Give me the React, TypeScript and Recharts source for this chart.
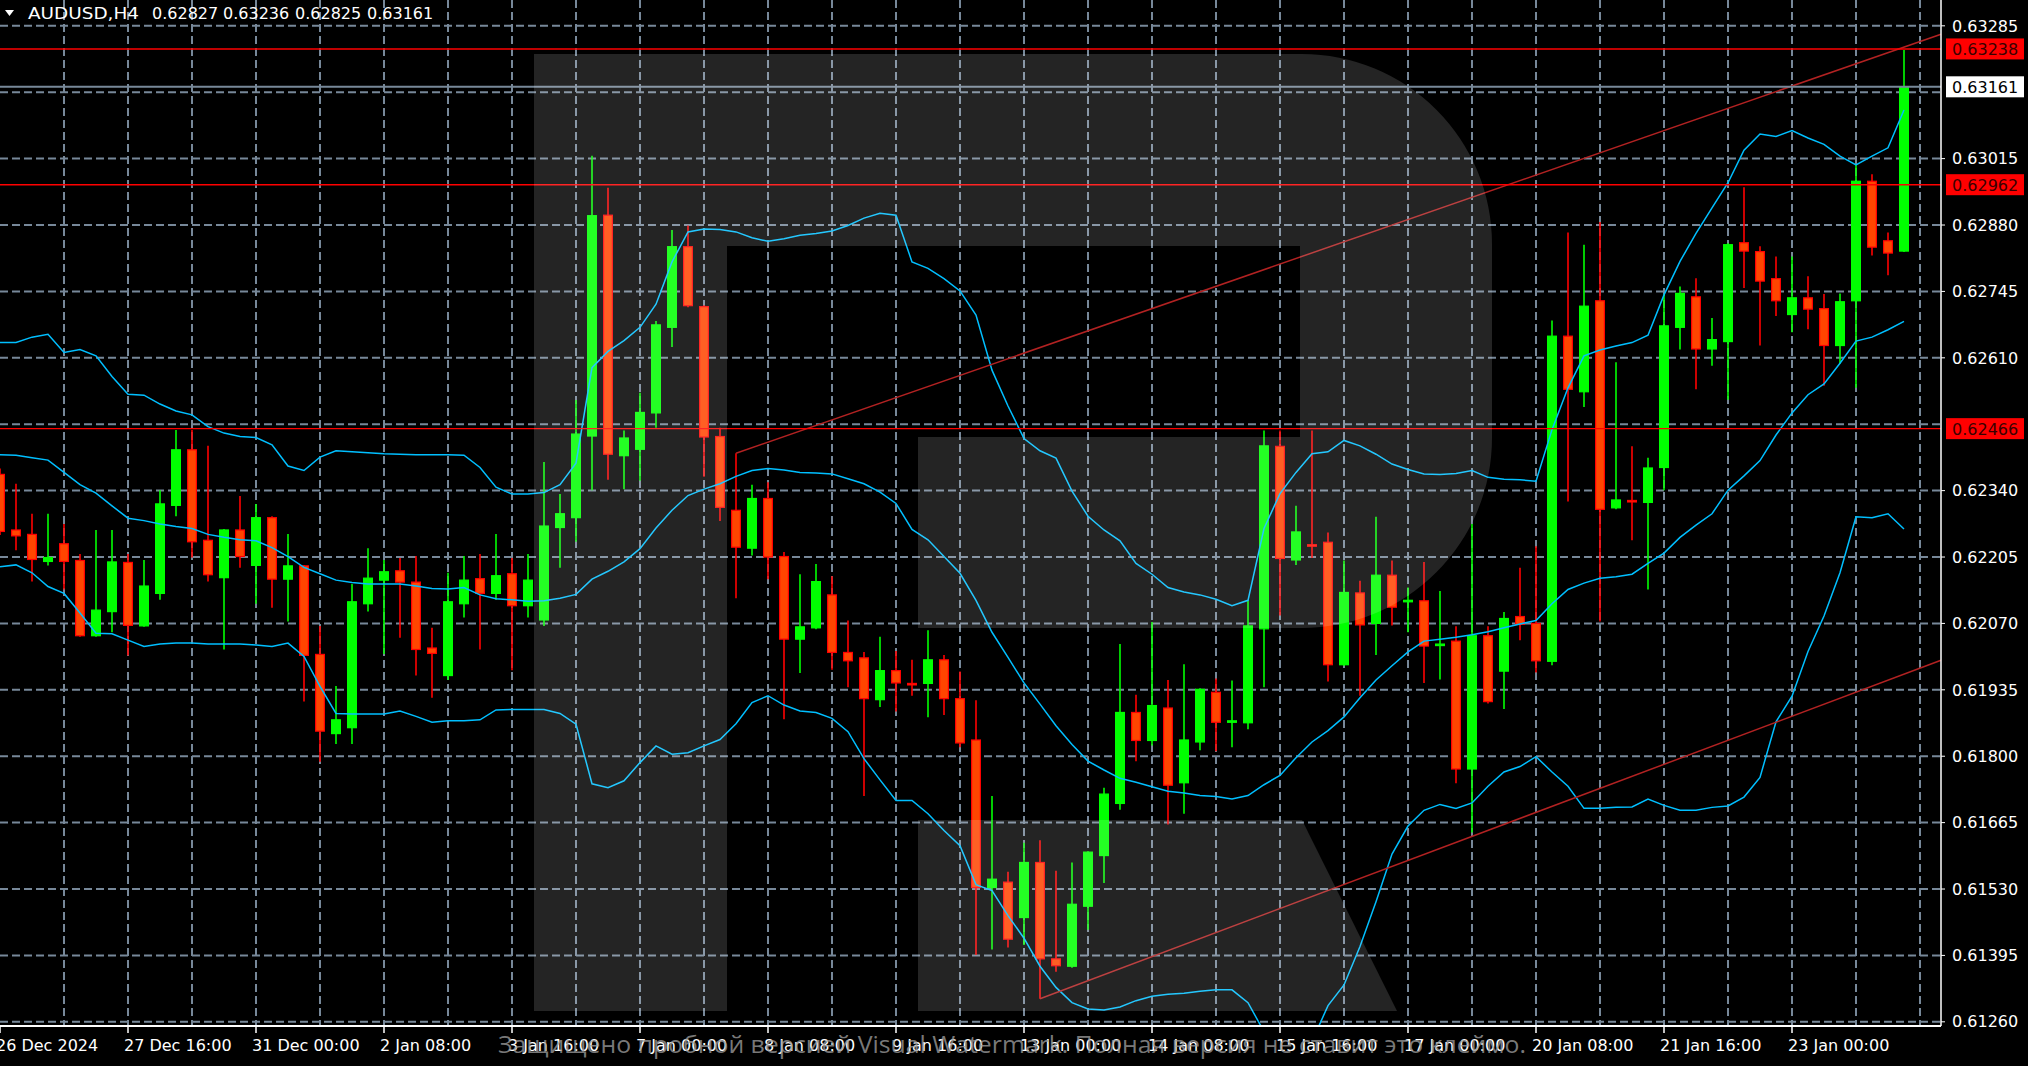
import React from 'react';
import { ComposedChart, Bar, Line, XAxis, YAxis, CartesianGrid, ReferenceLine } from 'recharts';

// ---- Data (AUDUSD, H4) ----
const opens = [
  0.62373, 0.62260, 0.62251, 0.62196, 0.62232, 0.62198, 0.62045, 0.62094, 0.62194, 0.62065,
  0.62131, 0.62310, 0.62423, 0.62239, 0.62163, 0.62260, 0.62188, 0.62285, 0.62160, 0.62187,
  0.62007, 0.61846, 0.61858, 0.62110, 0.62158, 0.62177, 0.62154, 0.62020, 0.61964, 0.62110,
  0.62161, 0.62131, 0.62171, 0.62106, 0.62077, 0.62265, 0.62285, 0.62451, 0.62900, 0.62411,
  0.62424, 0.62498, 0.62672, 0.62836, 0.62714, 0.62450, 0.62300, 0.62223, 0.62324, 0.62206,
  0.62038, 0.62061, 0.62128, 0.62011, 0.62000, 0.61915, 0.61974, 0.61948, 0.61948, 0.61996,
  0.61917, 0.61833, 0.61533, 0.61544, 0.61472, 0.61584, 0.61388, 0.61373, 0.61495, 0.61598,
  0.61704, 0.61889, 0.61832, 0.61898, 0.61746, 0.61829, 0.61930, 0.61869, 0.61868, 0.62059,
  0.62430, 0.62199, 0.62230, 0.62235, 0.61986, 0.62132, 0.62070, 0.62168, 0.62115, 0.62116,
  0.62025, 0.62034, 0.61774, 0.62045, 0.61973, 0.62084, 0.62070, 0.61993, 0.62654, 0.62541,
  0.62726, 0.62305, 0.62320, 0.62316, 0.62387, 0.62672, 0.62734, 0.62628, 0.62643, 0.62844,
  0.62826, 0.62771, 0.62698, 0.62732, 0.62710, 0.62635, 0.62726, 0.62969, 0.62848, 0.62827,
];
const highs = [
  0.62385, 0.62354, 0.62293, 0.62293, 0.62272, 0.62211, 0.62260, 0.62260, 0.62211, 0.62199,
  0.62341, 0.62463, 0.62463, 0.62431, 0.62262, 0.62329, 0.62313, 0.62288, 0.62252, 0.62189,
  0.62065, 0.61943, 0.62150, 0.62223, 0.62199, 0.62203, 0.62207, 0.62061, 0.62173, 0.62207,
  0.62211, 0.62252, 0.62203, 0.62211, 0.62398, 0.62333, 0.62524, 0.63021, 0.62956, 0.62462,
  0.62539, 0.62685, 0.62870, 0.62879, 0.62717, 0.62468, 0.62416, 0.62352, 0.62357, 0.62215,
  0.62170, 0.62191, 0.62166, 0.62076, 0.62012, 0.62043, 0.62014, 0.61996, 0.62056, 0.62006,
  0.61972, 0.61914, 0.61719, 0.61565, 0.61624, 0.61629, 0.61567, 0.61584, 0.61607, 0.61736,
  0.62028, 0.61925, 0.62073, 0.61955, 0.61987, 0.61938, 0.61958, 0.61954, 0.62117, 0.62462,
  0.62462, 0.62309, 0.62462, 0.62255, 0.62198, 0.62157, 0.62287, 0.62198, 0.62143, 0.62195,
  0.62136, 0.62064, 0.62272, 0.62064, 0.62093, 0.62183, 0.62227, 0.62686, 0.62865, 0.62840,
  0.62886, 0.62601, 0.62430, 0.62407, 0.62740, 0.62755, 0.62772, 0.62691, 0.62843, 0.62957,
  0.62837, 0.62816, 0.62816, 0.62776, 0.62740, 0.62741, 0.63002, 0.62983, 0.62865, 0.63236,
];
const lows = [
  0.62250, 0.62219, 0.62155, 0.62188, 0.62139, 0.62043, 0.62043, 0.62052, 0.62005, 0.62063,
  0.62118, 0.62288, 0.62204, 0.62155, 0.62017, 0.62183, 0.62110, 0.62102, 0.62074, 0.61911,
  0.61789, 0.61825, 0.61825, 0.62094, 0.62008, 0.62041, 0.61964, 0.61919, 0.61955, 0.62082,
  0.62017, 0.62118, 0.61975, 0.62082, 0.62065, 0.62183, 0.62236, 0.62341, 0.62362, 0.62343,
  0.62360, 0.62468, 0.62632, 0.62713, 0.62368, 0.62278, 0.62121, 0.62208, 0.62160, 0.61875,
  0.61969, 0.62058, 0.61976, 0.61940, 0.61719, 0.61900, 0.61891, 0.61923, 0.61879, 0.61884,
  0.61818, 0.61396, 0.61407, 0.61411, 0.61416, 0.61307, 0.61362, 0.61370, 0.61447, 0.61542,
  0.61691, 0.61790, 0.61822, 0.61661, 0.61683, 0.61812, 0.61810, 0.61818, 0.61855, 0.61940,
  0.62086, 0.62189, 0.62203, 0.61952, 0.61984, 0.61923, 0.62006, 0.62066, 0.62052, 0.61949,
  0.61956, 0.61745, 0.61645, 0.61907, 0.61896, 0.62036, 0.61970, 0.61985, 0.62318, 0.62510,
  0.62074, 0.62302, 0.62239, 0.62139, 0.62341, 0.62627, 0.62546, 0.62594, 0.62525, 0.62752,
  0.62635, 0.62695, 0.62662, 0.62668, 0.62553, 0.62598, 0.62549, 0.62818, 0.62778, 0.62825,
];
const closes = [
  0.62257, 0.62248, 0.62200, 0.62204, 0.62196, 0.62045, 0.62097, 0.62195, 0.62066, 0.62146,
  0.62313, 0.62423, 0.62236, 0.62169, 0.62260, 0.62206, 0.62285, 0.62160, 0.62187, 0.62005,
  0.61851, 0.61874, 0.62114, 0.62162, 0.62175, 0.62154, 0.62017, 0.62009, 0.62114, 0.62158,
  0.62131, 0.62167, 0.62106, 0.62158, 0.62268, 0.62293, 0.62455, 0.62899, 0.62414, 0.62447,
  0.62499, 0.62677, 0.62836, 0.62716, 0.62449, 0.62306, 0.62225, 0.62324, 0.62205, 0.62038,
  0.62063, 0.62155, 0.62011, 0.61994, 0.61917, 0.61974, 0.61949, 0.61946, 0.61996, 0.61917,
  0.61827, 0.61533, 0.61550, 0.61428, 0.61584, 0.61388, 0.61374, 0.61499, 0.61605, 0.61723,
  0.61889, 0.61832, 0.61903, 0.61741, 0.61833, 0.61936, 0.61869, 0.61872, 0.62065, 0.62431,
  0.62202, 0.62256, 0.62228, 0.61986, 0.62133, 0.62067, 0.62168, 0.62103, 0.62117, 0.62024,
  0.62028, 0.61774, 0.62045, 0.61911, 0.62080, 0.62068, 0.61994, 0.62654, 0.62546, 0.62715,
  0.62302, 0.62321, 0.62318, 0.62386, 0.62675, 0.62741, 0.62628, 0.62647, 0.62840, 0.62827,
  0.62766, 0.62726, 0.62732, 0.62709, 0.62635, 0.62724, 0.62969, 0.62835, 0.62823, 0.63161,
];
// Bollinger Bands
const bbUpper = [
  0.62641, 0.62641, 0.62652, 0.62658, 0.62621, 0.62627, 0.62614, 0.62572, 0.62536, 0.62534,
  0.62516, 0.62502, 0.62494, 0.62470, 0.62457, 0.62450, 0.62448, 0.62433, 0.62390, 0.62381,
  0.62408, 0.62421, 0.62419, 0.62417, 0.62415, 0.62414, 0.62413, 0.62413, 0.62413, 0.62412,
  0.62387, 0.62347, 0.62333, 0.62333, 0.62336, 0.62352, 0.62396, 0.62590, 0.62623, 0.62645,
  0.62672, 0.62719, 0.62805, 0.62866, 0.62872, 0.62871, 0.62866, 0.62854, 0.62847, 0.62852,
  0.62859, 0.62863, 0.62868, 0.62879, 0.62894, 0.62904, 0.62900, 0.62805, 0.62792, 0.62771,
  0.62746, 0.62697, 0.62585, 0.62512, 0.62446, 0.62421, 0.62406, 0.62339, 0.62288, 0.62260,
  0.62238, 0.62192, 0.62170, 0.62143, 0.62134, 0.62128, 0.62119, 0.62106, 0.62117, 0.62263,
  0.62334, 0.62377, 0.62415, 0.62419, 0.62442, 0.62431, 0.62414, 0.62394, 0.62383, 0.62374,
  0.62373, 0.62375, 0.62381, 0.62367, 0.62363, 0.62362, 0.62359, 0.62464, 0.62549, 0.62614,
  0.62626, 0.62634, 0.62641, 0.62656, 0.62738, 0.62806, 0.62863, 0.62915, 0.62966, 0.63032,
  0.63065, 0.63060, 0.63072, 0.63057, 0.63044, 0.63020, 0.63002, 0.63020, 0.63037, 0.63114,
];
const bbMiddle = [
  0.62413, 0.62412, 0.62407, 0.62402, 0.62377, 0.62352, 0.62335, 0.62309, 0.62284, 0.62279,
  0.62272, 0.62267, 0.62263, 0.62251, 0.62245, 0.62240, 0.62238, 0.62224, 0.62206, 0.62184,
  0.62171, 0.62158, 0.62153, 0.62150, 0.62150, 0.62150, 0.62146, 0.62141, 0.62140, 0.62143,
  0.62128, 0.62120, 0.62118, 0.62115, 0.62116, 0.62121, 0.62129, 0.62160, 0.62176, 0.62195,
  0.62222, 0.62264, 0.62300, 0.62330, 0.62343, 0.62354, 0.62369, 0.62381, 0.62385, 0.62382,
  0.62377, 0.62376, 0.62374, 0.62364, 0.62354, 0.62337, 0.62314, 0.62261, 0.62240, 0.62206,
  0.62172, 0.62117, 0.62052, 0.62001, 0.61949, 0.61906, 0.61862, 0.61824, 0.61790, 0.61772,
  0.61755, 0.61747, 0.61738, 0.61729, 0.61725, 0.61720, 0.61718, 0.61713, 0.61720, 0.61742,
  0.61761, 0.61797, 0.61829, 0.61852, 0.61880, 0.61919, 0.61955, 0.61984, 0.62012, 0.62034,
  0.62038, 0.62042, 0.62047, 0.62053, 0.62061, 0.62069, 0.62076, 0.62110, 0.62139, 0.62152,
  0.62162, 0.62165, 0.62170, 0.62192, 0.62213, 0.62245, 0.62270, 0.62293, 0.62341, 0.62370,
  0.62401, 0.62453, 0.62498, 0.62535, 0.62557, 0.62599, 0.62644, 0.62652, 0.62667, 0.62684,
];
const bbLower = [
  0.62185, 0.62189, 0.62173, 0.62145, 0.62131, 0.62091, 0.62050, 0.62049, 0.62036, 0.62023,
  0.62028, 0.62030, 0.62030, 0.62028, 0.62028, 0.62028, 0.62026, 0.62023, 0.62030, 0.62003,
  0.61942, 0.61887, 0.61886, 0.61886, 0.61886, 0.61892, 0.61881, 0.61869, 0.61872, 0.61872,
  0.61874, 0.61894, 0.61895, 0.61895, 0.61895, 0.61887, 0.61865, 0.61744, 0.61736, 0.61750,
  0.61787, 0.61821, 0.61804, 0.61807, 0.61821, 0.61834, 0.61866, 0.61909, 0.61923, 0.61904,
  0.61892, 0.61889, 0.61877, 0.61850, 0.61795, 0.61752, 0.61710, 0.61710, 0.61683, 0.61649,
  0.61618, 0.61539, 0.61527, 0.61476, 0.61430, 0.61373, 0.61330, 0.61299, 0.61286, 0.61284,
  0.61290, 0.61303, 0.61312, 0.61316, 0.61318, 0.61322, 0.61325, 0.61325, 0.61299, 0.61240,
  0.61200, 0.61190, 0.61220, 0.61293, 0.61335, 0.61413, 0.61504, 0.61601, 0.61658, 0.61690,
  0.61702, 0.61694, 0.61705, 0.61739, 0.61768, 0.61779, 0.61799, 0.61768, 0.61739, 0.61694,
  0.61694, 0.61696, 0.61697, 0.61713, 0.61700, 0.61690, 0.61690, 0.61696, 0.61699, 0.61717,
  0.61757, 0.61870, 0.61922, 0.62013, 0.62085, 0.62173, 0.62287, 0.62285, 0.62293, 0.62262,
];

const timeTickBars = [0, 8, 16, 24, 32, 40, 48, 56, 64, 72, 80, 88, 96, 104, 112];
const timeTickLabels = [
  '26 Dec 2024', '27 Dec 16:00', '31 Dec 00:00', '2 Jan 08:00', '3 Jan 16:00', '7 Jan 00:00',
  '8 Jan 08:00', '9 Jan 16:00', '13 Jan 00:00', '14 Jan 08:00', '15 Jan 16:00', '17 Jan 00:00',
  '20 Jan 08:00', '21 Jan 16:00', '23 Jan 00:00',
];
const gridBars = [4, 8, 12, 16, 20, 24, 28, 32, 36, 40, 44, 48, 52, 56, 60, 64, 68, 72, 76, 80, 84, 88, 92, 96, 100, 104, 108, 112, 116, 120];
const xTicks = [0, 4, 8, 12, 16, 20, 24, 28, 32, 36, 40, 44, 48, 52, 56, 60, 64, 68, 72, 76, 80, 84, 88, 92, 96, 100, 104, 108, 112, 116, 120];
const priceGrid = [0.63285, 0.6315, 0.63015, 0.6288, 0.62745, 0.6261, 0.62475, 0.6234, 0.62205, 0.6207, 0.61935, 0.618, 0.61665, 0.6153, 0.61395, 0.6126];
const priceLabels = [0.63285, 0.63015, 0.6288, 0.62745, 0.6261, 0.6234, 0.62205, 0.6207, 0.61935, 0.618, 0.61665, 0.6153, 0.61395, 0.6126];
const levelLines = [0.63238, 0.62962, 0.62466];
const currentPrice = 0.63161;
const trendUpper = [{ x: 46, y: 0.62416 }, { x: 121.3125, y: 0.63268 }];
const trendLower = [{ x: 65, y: 0.61307 }, { x: 121.3125, y: 0.61995 }];
const X_DOMAIN: [number, number] = [0, 121.3125];
const Y_DOMAIN: [number, number] = [0.612515, 0.633375];

const symbol = 'AUDUSD,H4';
const watermark = 'Защищено пробной версией Visual Watermark. Полная версия не ставит это клеймо.';

const data = opens.map((o, i) => ({
  i,
  range: [lows[i], highs[i]],
  open: o,
  high: highs[i],
  low: lows[i],
  close: closes[i],
  bbU: bbUpper[i],
  bbM: bbMiddle[i],
  bbL: bbLower[i],
}));

const FONT = 'DejaVu Sans';

const Candle = (props: any) => {
  const { x, y, width, height, payload } = props;
  if (x == null || y == null || !payload) return null;
  const { open, close, high, low } = payload;
  let top = y;
  let h = height;
  if (h < 0) { top = y + h; h = -h; }
  const ppu = h / (high - low);
  const yO = top + (high - open) * ppu;
  const yC = top + (high - close) * ppu;
  const cx = x + width / 2;
  const bull = close >= open;
  const bTop = Math.min(yO, yC);
  const bH = Math.max(Math.abs(yC - yO), 1.5);
  return (
    <g>
      <line x1={cx} x2={cx} y1={top} y2={top + h} stroke={bull ? '#00ff00' : '#ff0000'} strokeWidth={1.6} />
      <rect x={x + 0.6} y={bTop} width={width - 1.2} height={bH}
        fill={bull ? '#00ff00' : '#ff4500'} stroke={bull ? '#00ff00' : '#ff0000'} strokeWidth={1.2} />
    </g>
  );
};

const TimeTick = (props: any) => {
  const { x, y, payload } = props;
  const idx = timeTickBars.indexOf(payload.value);
  if (idx < 0) return null;
  return (
    <g>
      <line x1={x} x2={x} y1={1026} y2={1033} stroke="#ffffff" strokeWidth={1.5} />
      <text x={x - 4} y={1051} fill="#ffffff" fontSize={16} fontFamily={FONT}>{timeTickLabels[idx]}</text>
    </g>
  );
};

const PriceTag = (props: any) => {
  const { viewBox, text, bg, fg } = props;
  if (!viewBox) return null;
  const x = viewBox.x + viewBox.width + 5;
  const y = viewBox.y;
  return (
    <g>
      <rect x={x} y={y - 10.5} width={78} height={21} fill={bg} />
      <text x={x + 6} y={y + 6} fill={fg} fontSize={16} fontFamily={FONT}>{text}</text>
    </g>
  );
};

const Overlay = () => (
  <svg width={2028} height={1066} style={{ position: 'absolute', left: 0, top: 0, pointerEvents: 'none' }}>
    {/* big translucent "R" logo watermark */}
    <path
      d="M 534 54 L 1302 54 A 190 190 0 0 1 1492 244 L 1492 438 A 190 190 0 0 1 1302 628 L 918 628 L 918 437 L 1300 437 L 1300 246 L 727 246 L 727 1011 L 534 1011 Z"
      fill="#ffffff" fillOpacity={0.14} />
    <path d="M 918 820 L 1302 820 L 1397 1011 L 918 1011 Z" fill="#ffffff" fillOpacity={0.14} />
    {/* header */}
    <polygon points="5,10 14,10 9.5,16" fill="#ffffff" />
    <text x={28} y={19} fill="#ffffff" fontSize={16} fontFamily={FONT} textLength={111} lengthAdjust="spacingAndGlyphs">{symbol}</text>
    <text x={152} y={19} fill="#ffffff" fontSize={16} fontFamily={FONT}>{opens[119].toFixed(5)}</text>
    <text x={223} y={19} fill="#ffffff" fontSize={16} fontFamily={FONT}>{highs[119].toFixed(5)}</text>
    <text x={295} y={19} fill="#ffffff" fontSize={16} fontFamily={FONT}>{lows[119].toFixed(5)}</text>
    <text x={367} y={19} fill="#ffffff" fontSize={16} fontFamily={FONT}>{closes[119].toFixed(5)}</text>
    {/* trial watermark text */}
    <text x={498} y={1053} fill="#9a9a9a" fillOpacity={0.8} fontSize={23} fontFamily="Open Sans"
      textLength={1028} lengthAdjust="spacingAndGlyphs">{watermark}</text>
  </svg>
);

export default function App() {
  return (
    <div style={{ position: 'absolute', left: 0, top: 0, width: 2028, height: 1066, background: '#000000', overflow: 'hidden' }}>
      <ComposedChart width={2028} height={1066} data={data} margin={{ top: 0, right: 0, bottom: 0, left: 0 }}>
        <CartesianGrid stroke="#778899" strokeWidth={2} strokeDasharray="8 4"
          horizontalValues={priceGrid} verticalValues={gridBars} />
        <XAxis dataKey="i" type="number" domain={X_DOMAIN} allowDataOverflow ticks={xTicks} interval={0}
          height={40} axisLine={{ stroke: '#ffffff', strokeWidth: 2 }} tickLine={false} tickSize={8}
          tick={<TimeTick />} />
        <YAxis orientation="right" type="number" domain={Y_DOMAIN} allowDataOverflow ticks={priceLabels}
          interval={0} width={87} axisLine={{ stroke: '#ffffff', strokeWidth: 1.5 }}
          tickLine={{ stroke: '#ffffff' }} tickSize={4} tickMargin={7}
          tick={{ fill: '#ffffff', fontSize: 16, fontFamily: FONT }}
          tickFormatter={(v: number) => v.toFixed(5)} />
        <Bar dataKey="range" barSize={10} shape={<Candle />} isAnimationActive={false} />
        <Line dataKey="bbU" type="linear" stroke="#00bfff" strokeWidth={1.5} dot={false} activeDot={false} isAnimationActive={false} />
        <Line dataKey="bbM" type="linear" stroke="#00bfff" strokeWidth={1.5} dot={false} activeDot={false} isAnimationActive={false} />
        <Line dataKey="bbL" type="linear" stroke="#00bfff" strokeWidth={1.5} dot={false} activeDot={false} isAnimationActive={false} />
        <ReferenceLine segment={trendUpper} stroke="#b22222" strokeWidth={1.5} ifOverflow="visible" />
        <ReferenceLine segment={trendLower} stroke="#b22222" strokeWidth={1.5} ifOverflow="visible" />
        {levelLines.map((v) => (
          <ReferenceLine key={v} y={v} stroke="#ff0000" strokeWidth={1.4}
            label={<PriceTag text={v.toFixed(5)} bg="#ff0000" fg="#3a0000" />} />
        ))}
        <ReferenceLine y={currentPrice} stroke="#778899" strokeWidth={2}
          label={<PriceTag text={currentPrice.toFixed(5)} bg="#ffffff" fg="#000000" />} />
      </ComposedChart>
      <Overlay />
    </div>
  );
}
